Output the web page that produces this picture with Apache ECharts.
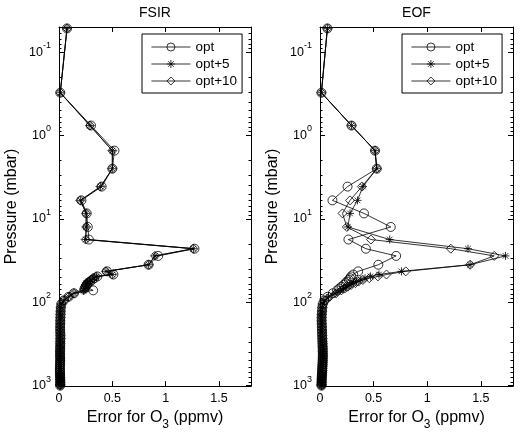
<!DOCTYPE html>
<html>
<head>
<meta charset="utf-8">
<script src="https://cdn.jsdelivr.net/npm/echarts@6/dist/echarts.min.js"></script>
<style>
  html, body { margin: 0; padding: 0; background: #fff; }
  #main { width: 520px; height: 436px; }
</style>
</head>
<body>
<div id="main"></div>
<script>
// pressure levels (mbar), top of atmosphere -> surface
var levels = [0.052, 0.307, 0.76, 1.52, 2.5, 4.1, 6.0, 8.6, 12.5, 17.7,
  22.8, 27.8, 35.5, 42.6, 46.5, 49, 51.5, 54, 56.5, 59,
  62, 65, 68.5, 72, 78, 86, 95, 105, 116, 128,
  140, 153, 167, 182, 198, 215, 233, 252, 272, 293,
  315, 338, 362, 387, 413, 440, 468, 497, 527, 558,
  590, 623, 657, 692, 728, 765, 803, 842, 882, 923,
  965, 1000];

// FSIR errors (ppmv)
var fsirOpt = [0.075, 0.012, 0.30, 0.52, 0.50, 0.40, 0.21, 0.26, 0.27, 0.28,
  1.27, 0.93, 0.84, 0.45, 0.51, 0.36, 0.33, 0.31, 0.29, 0.27,
  0.26, 0.25, 0.24, 0.32, 0.14, 0.09, 0.045, 0.022, 0.017, 0.015,
  0.014, 0.013, 0.012, 0.012, 0.011, 0.011, 0.012, 0.013, 0.013, 0.012,
  0.012, 0.011, 0.011, 0.010, 0.010, 0.010, 0.011, 0.011, 0.010, 0.010,
  0.009, 0.009, 0.009, 0.009, 0.010, 0.010, 0.011, 0.011, 0.012, 0.012,
  0.012, 0.011];
var fsirOpt5 = [0.075, 0.012, 0.29, 0.50, 0.50, 0.39, 0.20, 0.255, 0.255, 0.25,
  1.26, 0.90, 0.84, 0.44, 0.50, 0.35, 0.33, 0.30, 0.28, 0.26,
  0.26, 0.25, 0.24, 0.23, 0.14, 0.09, 0.045, 0.021, 0.017, 0.015,
  0.014, 0.013, 0.012, 0.012, 0.011, 0.011, 0.012, 0.013, 0.013, 0.012,
  0.012, 0.011, 0.011, 0.010, 0.010, 0.010, 0.011, 0.011, 0.010, 0.010,
  0.009, 0.009, 0.009, 0.009, 0.010, 0.010, 0.011, 0.011, 0.012, 0.012,
  0.012, 0.011];
var fsirOpt10 = [0.075, 0.012, 0.29, 0.50, 0.50, 0.39, 0.20, 0.255, 0.255, 0.25,
  1.26, 0.90, 0.84, 0.44, 0.50, 0.35, 0.32, 0.30, 0.28, 0.26,
  0.25, 0.25, 0.24, 0.23, 0.14, 0.09, 0.045, 0.021, 0.017, 0.015,
  0.014, 0.013, 0.012, 0.012, 0.011, 0.011, 0.012, 0.013, 0.013, 0.012,
  0.012, 0.011, 0.011, 0.010, 0.010, 0.010, 0.011, 0.011, 0.010, 0.010,
  0.009, 0.009, 0.009, 0.009, 0.010, 0.010, 0.011, 0.011, 0.012, 0.012,
  0.012, 0.011];

// EOF errors (ppmv)
var eofOpt = [0.069, 0.013, 0.294, 0.513, 0.53, 0.257, 0.116, 0.41, 0.66, 0.265,
  0.428, 0.71, 0.544, 0.356, 0.31, 0.29, 0.28, 0.27, 0.25, 0.24,
  0.22, 0.20, 0.18, 0.16, 0.12, 0.07, 0.04, 0.025, 0.021, 0.018,
  0.016, 0.015, 0.015, 0.016, 0.017, 0.018, 0.019, 0.020, 0.021, 0.022,
  0.023, 0.024, 0.025, 0.025, 0.026, 0.026, 0.025, 0.025, 0.024, 0.023,
  0.022, 0.021, 0.020, 0.019, 0.018, 0.017, 0.016, 0.016, 0.015, 0.015,
  0.014, 0.014];
var eofOpt5 = [0.069, 0.013, 0.294, 0.513, 0.53, 0.40, 0.35, 0.28, 0.26, 0.65,
  1.38, 1.73, 1.40, 0.76, 0.55, 0.47, 0.42, 0.38, 0.34, 0.31,
  0.28, 0.25, 0.22, 0.19, 0.14, 0.08, 0.045, 0.027, 0.022, 0.019,
  0.017, 0.016, 0.016, 0.017, 0.018, 0.019, 0.020, 0.021, 0.022, 0.023,
  0.024, 0.025, 0.026, 0.026, 0.027, 0.027, 0.026, 0.026, 0.025, 0.024,
  0.023, 0.022, 0.021, 0.020, 0.019, 0.018, 0.017, 0.016, 0.016, 0.015,
  0.015, 0.014];
var eofOpt10 = [0.069, 0.013, 0.294, 0.513, 0.53, 0.39, 0.28, 0.21, 0.25, 0.475,
  1.22, 1.625, 1.40, 0.80, 0.62, 0.54, 0.46, 0.40, 0.36, 0.33,
  0.29, 0.26, 0.23, 0.20, 0.15, 0.09, 0.05, 0.028, 0.023, 0.020,
  0.018, 0.017, 0.017, 0.018, 0.019, 0.020, 0.021, 0.022, 0.023, 0.024,
  0.025, 0.026, 0.027, 0.027, 0.028, 0.028, 0.027, 0.027, 0.026, 0.025,
  0.024, 0.023, 0.022, 0.021, 0.020, 0.019, 0.018, 0.017, 0.016, 0.016,
  0.015, 0.015];

var seriesNames = ['opt', 'opt+5', 'opt+10'];
var panelTitles = ['FSIR', 'EOF'];
var xTicks = [0, 0.5, 1, 1.5];
var yTicks = [0.1, 1, 10, 100, 1000];
var yMinorTicks = [0.06, 0.07, 0.08, 0.09, 0.2, 0.3, 0.4, 0.5, 0.6, 0.7, 0.8, 0.9,
  2, 3, 4, 5, 6, 7, 8, 9, 20, 30, 40, 50, 60, 70, 80, 90,
  200, 300, 400, 500, 600, 700, 800, 900];

var panels = [[fsirOpt, fsirOpt5, fsirOpt10], [eofOpt, eofOpt5, eofOpt10]];

var font = '"Liberation Sans", Arial, Helvetica, sans-serif';
var black = '#000';
var markers = ['circle', 'path://M0,-10L0,10M-10,0L10,0M-7,-7L7,7M-7,7L7,-7', 'diamond'];
var markerSizes = [9, 8, 9];

var chart = echarts.init(document.getElementById('main'));

var grids = [
  { left: 59, top: 27, width: 192, height: 365 },
  { left: 320, top: 27, width: 193, height: 365 }
];

var xAxes = [];
var yAxes = [];
var series = [];

function pairs(xs) {
  return xs.map(function (x, i) { return [x, levels[i]]; });
}

function tickStyle(len, vals) {
  return { show: true, inside: true, length: len, customValues: vals, lineStyle: { color: black, width: 1 } };
}

for (var g = 0; g < 2; g++) {
  // bottom x axis
  xAxes.push({
    gridIndex: g, type: 'value', position: 'bottom', min: 0, max: 1.8,
    axisLine: { show: true, onZero: false, lineStyle: { color: black, width: 1 } },
    axisTick: tickStyle(5, xTicks),
    axisLabel: { customValues: xTicks, color: black, fontSize: 12.5, fontFamily: font, margin: 6 },
    splitLine: { show: false },
    name: '{t|Error for O}{s|3}{t| (ppmv)}',
    nameLocation: 'middle', nameGap: 13,
    nameTextStyle: {
      rich: {
        t: { fontSize: 16, fontFamily: font, color: black, lineHeight: 16, verticalAlign: 'top' },
        s: { fontSize: 12, fontFamily: font, color: black, lineHeight: 30, verticalAlign: 'middle' }
      }
    }
  });
  // top x axis (box + title)
  xAxes.push({
    gridIndex: g, type: 'value', position: 'top', min: 0, max: 1.8,
    axisLine: { show: true, onZero: false, lineStyle: { color: black, width: 1 } },
    axisTick: tickStyle(5, xTicks),
    axisLabel: { show: false },
    splitLine: { show: false },
    name: panelTitles[g], nameLocation: 'middle', nameGap: 7,
    nameTextStyle: { fontSize: 14, fontFamily: font, color: black }
  });
  var logBase = { gridIndex: g, type: 'log', logBase: 10, min: 0.05, max: 1013, inverse: true, splitLine: { show: false } };
  yAxes.push(Object.assign({}, logBase, {
    position: 'left',
    axisLine: { show: true, onZero: false, lineStyle: { color: black, width: 1 } },
    axisTick: tickStyle(5, yTicks),
    axisLabel: {
      customValues: yTicks, margin: 8,
      formatter: function (v) {
        return '{b|10}{s|' + Math.round(Math.log10(v)) + '}';
      },
      rich: {
        b: { fontSize: 12.5, fontFamily: font, color: black, lineHeight: 22, verticalAlign: 'middle' },
        s: { fontSize: 9, fontFamily: font, color: black, lineHeight: 10, verticalAlign: 'top' }
      }
    },
    name: 'Pressure (mbar)', nameLocation: 'middle', nameGap: 39,
    nameTextStyle: { fontSize: 16, fontFamily: font, color: black }
  }));
  yAxes.push(Object.assign({}, logBase, {
    position: 'right',
    axisLine: { show: true, onZero: false, lineStyle: { color: black, width: 1 } },
    axisTick: tickStyle(5, yTicks),
    axisLabel: { show: false }
  }));
  yAxes.push(Object.assign({}, logBase, {
    position: 'left',
    axisLine: { show: false, onZero: false },
    axisTick: tickStyle(2.5, yMinorTicks),
    axisLabel: { show: false }
  }));
  yAxes.push(Object.assign({}, logBase, {
    position: 'right',
    axisLine: { show: false, onZero: false },
    axisTick: tickStyle(2.5, yMinorTicks),
    axisLabel: { show: false }
  }));

  for (var k = 0; k < 3; k++) {
    series.push({
      type: 'line', name: seriesNames[k],
      xAxisIndex: 2 * g, yAxisIndex: 4 * g,
      data: pairs(panels[g][k]),
      symbol: markers[k], symbolSize: markerSizes[k],
      lineStyle: { color: black, width: 0.8 },
      itemStyle: { color: 'rgba(0,0,0,0)', borderColor: black, borderWidth: 0.8 },
      emphasis: { disabled: true },
      silent: true
    });
  }
}

function legendAt(left) {
  return {
    left: left, top: 34, orient: 'vertical',
    data: seriesNames,
    backgroundColor: '#fff', borderColor: black, borderWidth: 1, borderRadius: 0,
    padding: [6, 5, 5, 9],
    itemWidth: 39, itemHeight: 10, itemGap: 3,
    lineStyle: { width: 0.8, color: black },
    itemStyle: { borderWidth: 0.8, borderColor: black, color: 'rgba(0,0,0,0)' },
    textStyle: { fontSize: 13.5, fontFamily: font, color: black },
    selectedMode: false
  };
}

var option = {
  animation: false,
  backgroundColor: '#fff',
  grid: grids,
  xAxis: xAxes,
  yAxis: yAxes,
  legend: [legendAt(142), legendAt(402)],
  series: series
};

option && chart.setOption(option);
</script>
</body>
</html>
